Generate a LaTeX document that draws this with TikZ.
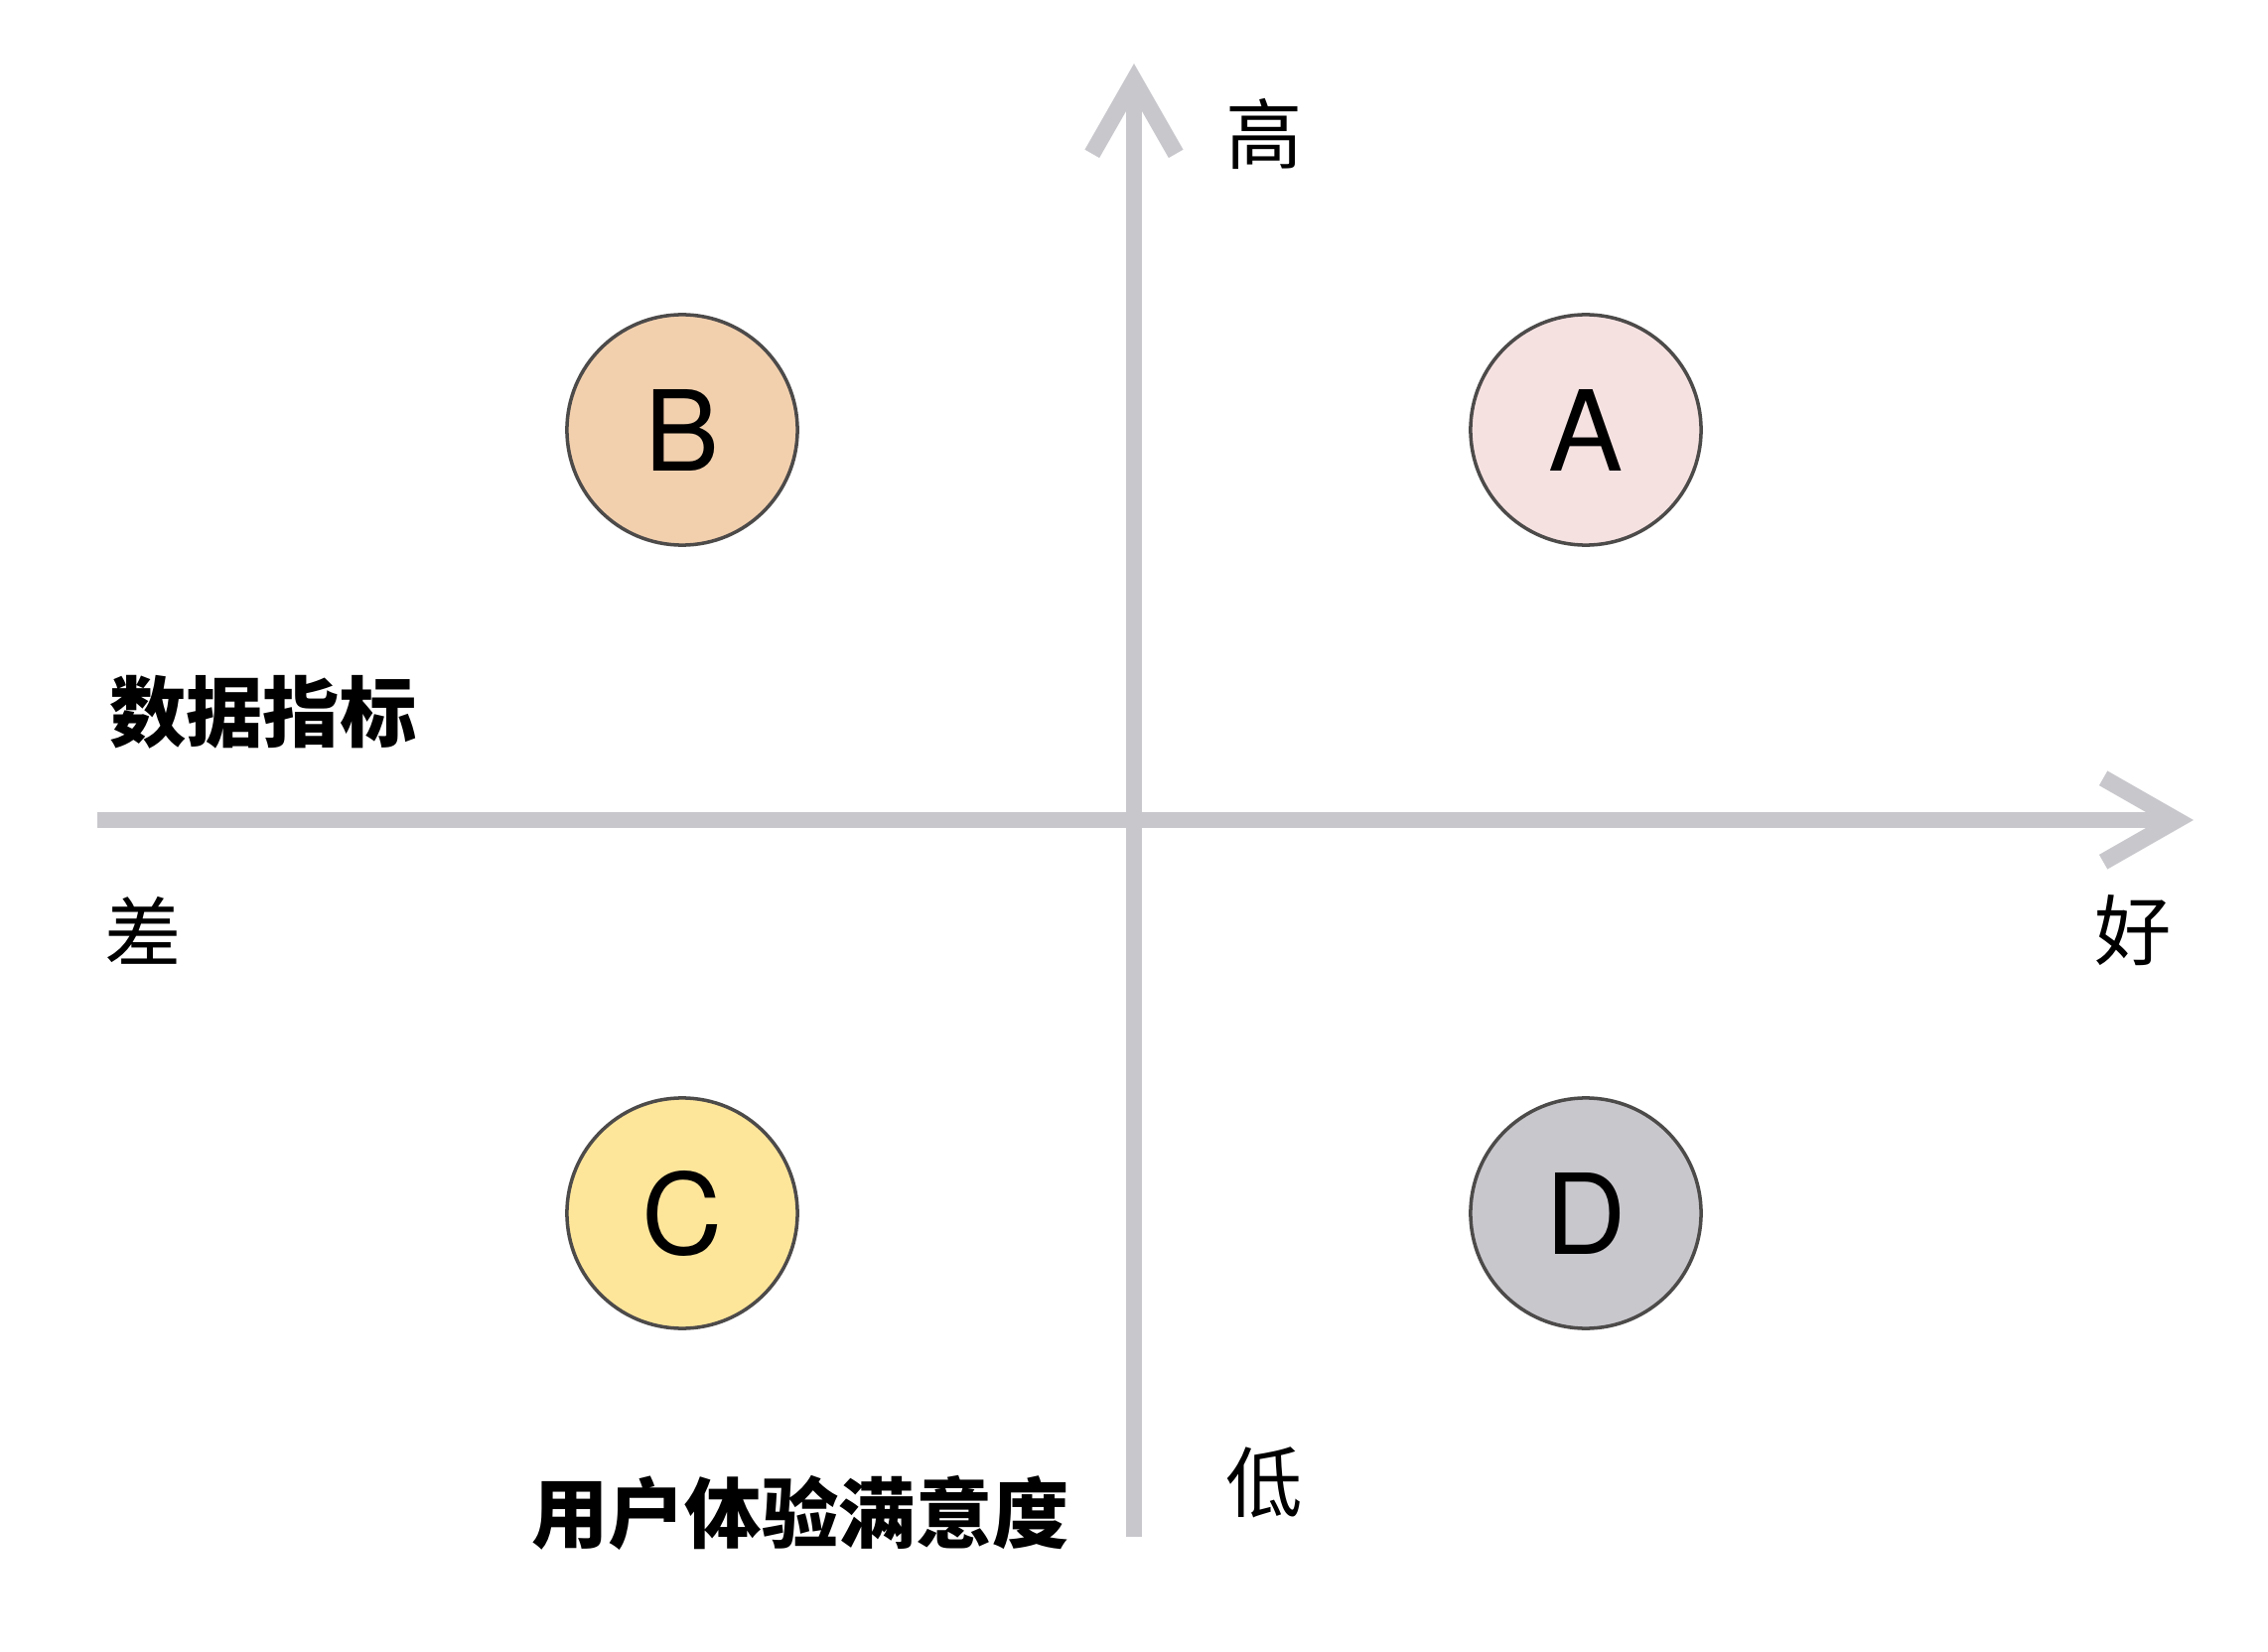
\documentclass[tikz,border=0pt]{standalone}
\usepackage{fontspec}
\setmainfont{TeX Gyre Heros}
\newfontfamily\cjk{Noto Sans CJK SC}
\usetikzlibrary{arrows.meta}

\definecolor{axisgray}{HTML}{C8C7CC}
\definecolor{rimgray}{HTML}{4D4A4A}
\definecolor{fillA}{HTML}{F6E1E1}
\definecolor{fillB}{HTML}{F2D0AE}
\definecolor{fillC}{HTML}{FDE59A}
\definecolor{fillD}{HTML}{C8C7CC}

\tikzset{
    axisline/.style={draw=axisgray, line width=4.8pt, -{Straight Barb[length=21pt,width=24pt]}},
    quadrant/.style={circle, draw=rimgray, line width=1pt, minimum size=2.32cm, inner sep=0pt, font=\fontsize{32}{32}\selectfont},
    tick/.style={font=\cjk\fontsize{22}{22}\selectfont, inner sep=0pt},
    title/.style={font=\cjk\bfseries\fontsize{22}{22}\selectfont, inner sep=0pt},
}

\begin{document}
\begin{tikzpicture}[x=0.01cm, y=-0.01cm]
        \useasboundingbox (0,0) rectangle (2284,1664);
        \coordinate (vbot) at (1142,1548);
        \coordinate (vtop) at (1142,64);
        \coordinate (hleft) at (98,826);
        \coordinate (hright) at (2209,826);
        \draw[axisline] (vbot) -- (vtop); % vertical axis
        \draw[axisline] (hleft) -- (hright); % horizontal axis
        \node[quadrant, fill=fillB] (B) at (687,433) {B};
        \node[quadrant, fill=fillA] (A) at (1597,433) {A};
        \node[quadrant, fill=fillC] (C) at (687,1222) {C};
        \node[quadrant, fill=fillD] (D) at (1597,1222) {D};
        \node[tick] (high) at (1273,135) {高};
        \node[tick] (low) at (1273,1493) {低};
        \node[tick] (bad) at (144,937) {差};
        \node[tick] (good) at (2148,937) {好};
        \node[title] (metric) at (265,717) {数据指标};
        \node[title] (ux) at (806,1524) {用户体验满意度};
    \end{tikzpicture}
\end{document}
